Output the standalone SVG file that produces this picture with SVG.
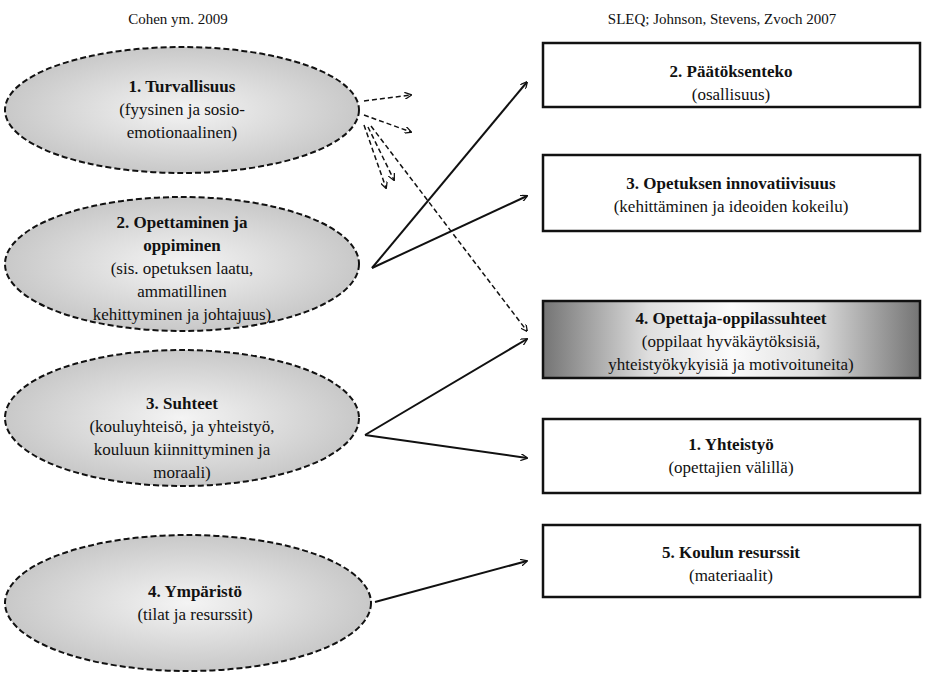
<svg xmlns="http://www.w3.org/2000/svg" width="927" height="684" viewBox="0 0 927 684">
<style>
text{font-family:"Liberation Serif",Times,"Times New Roman",serif;font-size:17px;fill:#111;text-anchor:middle}
.b{font-weight:bold}
.h{font-size:15px}
.ell{fill:url(#eg);stroke:#111;stroke-width:2;stroke-dasharray:6,3}
.box{fill:#fff;stroke:#111;stroke-width:2.5}
.gbox{fill:url(#bg2);stroke:#111;stroke-width:2.5}
.s{stroke:#111;stroke-width:2;fill:none;marker-end:url(#ar)}
.d{stroke:#111;stroke-width:1.5;fill:none;stroke-dasharray:5,3;marker-end:url(#ar)}
</style>
<defs>
<radialGradient id="eg" cx="0.5" cy="0.5" r="0.55"><stop offset="0" stop-color="#f4f4f4"/><stop offset="1" stop-color="#c4c4c4"/></radialGradient>
<linearGradient id="bg2" x1="0" x2="1" y1="0" y2="0"><stop offset="0" stop-color="#747474"/><stop offset="0.28" stop-color="#dedede"/><stop offset="0.5" stop-color="#fbfbfb"/><stop offset="0.72" stop-color="#dedede"/><stop offset="1" stop-color="#747474"/></linearGradient>
<marker id="ar" viewBox="0 0 10 10" refX="9" refY="5" markerWidth="7" markerHeight="7" orient="auto" markerUnits="userSpaceOnUse"><path d="M0,0 L10,5 L0,10" fill="none" stroke="#111" stroke-width="1.8"/></marker>
</defs>
<text class="h" x="178" y="24">Cohen ym. 2009</text>
<text class="h" x="722" y="24">SLEQ; Johnson, Stevens, Zvoch 2007</text>
<g id="e1"><ellipse class="ell" cx="182" cy="110" rx="177" ry="63"/>
<text class="b" x="182" y="92">1.    Turvallisuus</text><text x="182" y="115">(fyysinen ja sosio-</text><text x="182" y="138">emotionaalinen)</text></g>
<g id="e2"><ellipse class="ell" cx="182" cy="264" rx="177" ry="67"/>
<text class="b" x="182" y="228">2. Opettaminen ja</text><text class="b" x="182" y="251">oppiminen</text><text x="182" y="274">(sis.  opetuksen laatu,</text><text x="182" y="297">ammatillinen</text><text x="182" y="320">kehittyminen ja johtajuus)</text></g>
<g id="e3"><ellipse class="ell" cx="182" cy="418" rx="177" ry="68"/>
<text class="b" x="182" y="409">3. Suhteet</text><text x="182" y="432">(kouluyhteisö, ja yhteistyö,</text><text x="182" y="455">kouluun kiinnittyminen ja</text><text x="182" y="478">moraali)</text></g>
<g id="e4"><ellipse class="ell" cx="188" cy="603" rx="183" ry="68"/>
<text class="b" x="195" y="597">4. Ympäristö</text><text x="195" y="620">(tilat ja resurssit)</text></g>
<g id="b1"><rect class="box" x="543" y="43" width="377" height="64"/><text class="b" x="731" y="77">2. Päätöksenteko</text><text x="731" y="100">(osallisuus)</text></g>
<g id="b2"><rect class="box" x="543" y="155" width="377" height="76"/><text class="b" x="731" y="189">3. Opetuksen innovatiivisuus</text><text x="731" y="212">(kehittäminen ja ideoiden kokeilu)</text></g>
<g id="b3"><rect class="gbox" x="543" y="301" width="377" height="77"/><text class="b" x="731" y="324">4. Opettaja-oppilassuhteet</text><text x="731" y="347">(oppilaat hyväkäytöksisiä,</text><text x="731" y="370">yhteistyökykyisiä ja motivoituneita)</text></g>
<g id="b4"><rect class="box" x="543" y="419" width="377" height="74"/><text class="b" x="731" y="450">1.  Yhteistyö</text><text x="731" y="473">(opettajien välillä)</text></g>
<g id="b5"><rect class="box" x="543" y="525" width="377" height="72"/><text class="b" x="731" y="558">5. Koulun resurssit</text><text x="731" y="581">(materiaalit)</text></g>
<g id="connectors">
<path class="d" d="M364,101 L411,95"/>
<path class="d" d="M364,115 L411,132"/>
<path class="d" d="M364,125 L386,188"/>
<path class="d" d="M368,127 L394,180"/>
<path class="d" d="M371,126 L527,331"/>
<path class="s" d="M372,268 L527,82"/>
<path class="s" d="M372,268 L527,196"/>
<path class="s" d="M365,435 L527,339"/>
<path class="s" d="M365,435 L527,458"/>
<path class="s" d="M375,602 L527,561"/>
</g>
</svg>
